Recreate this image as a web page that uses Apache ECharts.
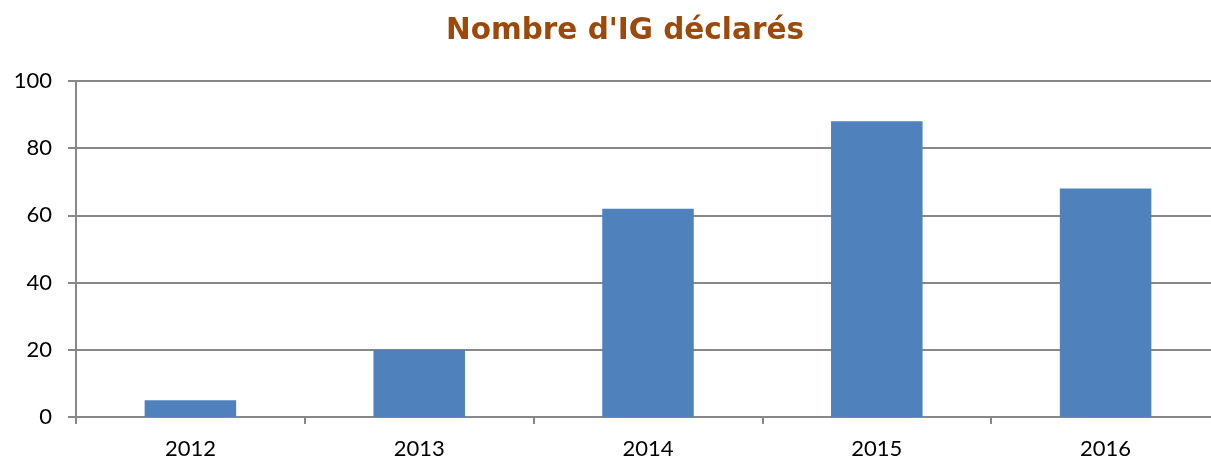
<!DOCTYPE html>
<html lang="fr">
<head>
    <meta charset="UTF-8">
    <title>Nombre d'IG déclarés</title>
    <style>
        html, body { margin: 0; padding: 0; background: #fff; overflow: hidden; }
        #chart { width: 1211px; height: 459px; }
    </style>
</head>
<body>
<div id="chart"></div>

<script src="https://cdn.jsdelivr.net/npm/echarts@6.0.0/dist/echarts.min.js"></script>
<script>
    let years = ['2012', '2013', '2014', '2015', '2016'];
    let counts = [5, 20, 62, 88, 68];
    let yTicks = [0, 20, 40, 60, 80, 100];

    let chart = echarts.init(document.getElementById('chart'));

    let option = {
        animation: false,
        title: {
            text: "Nombre d'IG déclarés",
            left: 441,
            top: 11,
            textStyle: {
                fontFamily: 'DejaVu Sans',
                fontWeight: 'bold',
                fontSize: 29.5,
                color: '#9C4A0B'
            }
        },
        grid: {
            left: 76,
            width: 1144,
            top: 81,
            bottom: 42,
            outerBoundsMode: 'none'
        },
        xAxis: {
            type: 'category',
            data: years,
            axisLine: { lineStyle: { color: '#888', width: 2 } },
            axisTick: { show: true, length: 7, lineStyle: { color: '#888', width: 2 } },
            axisLabel: {
                color: '#000',
                fontFamily: 'Lato',
                fontSize: 22,
                margin: 21
            }
        },
        yAxis: {
            type: 'value',
            min: yTicks[0],
            max: yTicks[yTicks.length - 1],
            interval: 20,
            axisLine: { show: true, lineStyle: { color: '#888', width: 2 } },
            axisTick: { show: true, length: 8, lineStyle: { color: '#888', width: 2 } },
            splitLine: { lineStyle: { color: '#888', width: 2 } },
            axisLabel: {
                color: '#000',
                fontFamily: 'Lato',
                fontSize: 22,
                margin: 24
            }
        },
        series: [{
            type: 'bar',
            data: counts,
            barWidth: '40%',
            itemStyle: { color: '#4F81BD' }
        }]
    };

    chart.setOption(option);
</script>
</body>
</html>
